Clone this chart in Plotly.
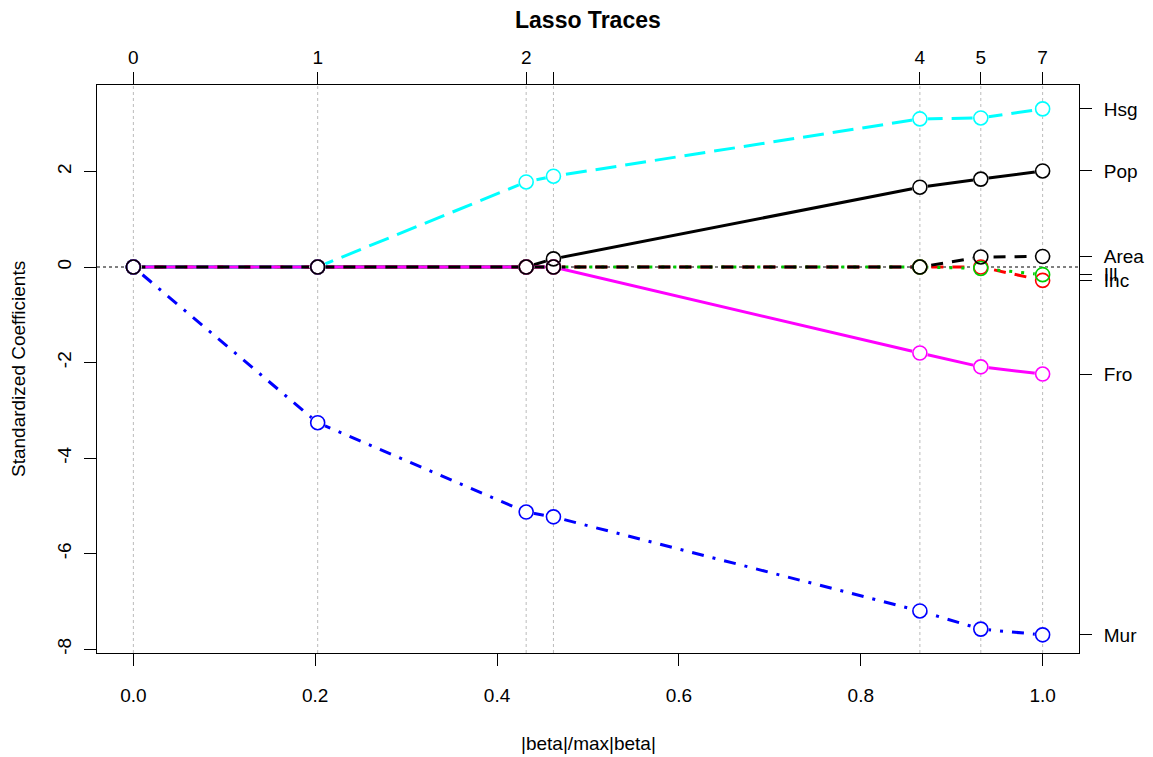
import plotly.graph_objects as go

# ---- data ----
steps = [0.0, 0.2027, 0.432, 0.462, 0.865, 0.932, 1.0]
step_labels = ["0", "1", "2", "", "4", "5", "7"]
variables = ["Pop", "Inc", "Ill", "Mur", "Hsg", "Fro", "Area"]
Pop = [0, 0, 0, 0.17, 1.67, 1.84, 2.01]
Inc = [0, 0, 0, 0, 0, 0, -0.28]
Ill = [0, 0, 0, 0, 0, -0.03, -0.16]
Mur = [0, -3.26, -5.13, -5.23, -7.20, -7.58, -7.70]
Hsg = [0, 0, 1.78, 1.90, 3.10, 3.12, 3.31]
Fro = [0, 0, 0, 0, -1.80, -2.09, -2.24]
Area = [0, 0, 0, 0, 0, 0.21, 0.22]
series = [Pop, Inc, Ill, Mur, Hsg, Fro, Area]
y_ticks = [-8, -6, -4, -2, 0, 2]
x_ticks = [0.0, 0.2, 0.4, 0.6, 0.8, 1.0]
x_tick_text = ["0.0", "0.2", "0.4", "0.6", "0.8", "1.0"]

# ---- styles ----
colors = ["#000000", "#FF0000", "#00CD00", "#0000FF", "#00FFFF", "#FF00FF", "#000000"]
dashes = ["solid", "12px,9px", "3px,9px", "3px,9px,12px,9px", "21px,9px", "solid", "12px,9px"]
FONT = "Liberation Sans, Arial, sans-serif"
FS = 19

xr = [-0.04, 1.04]
yr = [-8.08, 3.81]

fig = go.Figure()

# vertical dotted lines at each step
for s in steps:
    fig.add_shape(type="line", x0=s, x1=s, y0=0, y1=1, xref="x", yref="paper",
                  line=dict(color="#BBBBBB", width=1, dash="dot"), layer="below")
# horizontal dotted line at 0
fig.add_shape(type="line", x0=0, x1=1, y0=0, y1=0, xref="paper", yref="y",
              line=dict(color="black", width=1, dash="dot"), layer="below")

# lines
for name, vals, c, d in zip(variables, series, colors, dashes):
    fig.add_trace(go.Scatter(x=steps, y=vals, mode="lines", name=name,
                             line=dict(color=c, width=3, dash=d),
                             showlegend=False, hoverinfo="skip"))
# gaps around points (white fill)
for name, vals in zip(variables, series):
    fig.add_trace(go.Scatter(x=steps, y=vals, mode="markers",
                             marker=dict(symbol="circle", size=16, color="white",
                                         line=dict(width=0)),
                             showlegend=False, hoverinfo="skip"))
# open circles
for name, vals, c in zip(variables, series, colors):
    fig.add_trace(go.Scatter(x=steps, y=vals, mode="markers", name=name,
                             marker=dict(symbol="circle-open", size=14, color=c,
                                         line=dict(width=1.6, color=c)),
                             showlegend=False))

# invisible traces to anchor secondary axes
fig.add_trace(go.Scatter(x=[0], y=[0], xaxis="x2", yaxis="y", mode="markers",
                         marker=dict(opacity=0), showlegend=False, hoverinfo="skip"))
fig.add_trace(go.Scatter(x=[0], y=[0], xaxis="x", yaxis="y2", mode="markers",
                         marker=dict(opacity=0), showlegend=False, hoverinfo="skip"))

final_vals = [v[-1] for v in series]

axis_common = dict(showgrid=False, zeroline=False, showline=True, linecolor="black",
                   linewidth=1, ticks="outside", ticklen=12, tickcolor="black",
                   automargin=False,
                   tickfont=dict(family=FONT, size=FS, color="black"))

fig.update_layout(
    width=1153, height=757,
    margin=dict(l=97, r=74, t=85, b=104),
    paper_bgcolor="white", plot_bgcolor="white",
    font=dict(family=FONT, size=FS, color="black"),
    xaxis=dict(range=xr, tickvals=x_ticks, ticktext=x_tick_text,
               ticklabelstandoff=13, **axis_common),
    xaxis2=dict(range=xr, overlaying="x", side="top", tickvals=steps,
                ticktext=step_labels, ticklabelstandoff=0, **axis_common),
    yaxis=dict(range=yr, tickvals=y_ticks, ticktext=[str(v) for v in y_ticks],
               tickangle=-90, ticklabelstandoff=5, **axis_common),
    yaxis2=dict(range=yr, overlaying="y", side="right", tickvals=final_vals,
                ticktext=variables, ticklabelstandoff=8, **axis_common),
    annotations=[
        dict(text="<b>Lasso Traces</b>", x=0.5, y=(653 - 20) / 568, xref="paper", yref="paper",
             showarrow=False, xanchor="center", yanchor="middle",
             font=dict(family=FONT, size=23, color="black")),
        dict(text="|beta|/max|beta|", x=0.5, y=(653 - 743) / 568, xref="paper", yref="paper",
             showarrow=False, xanchor="center", yanchor="middle",
             font=dict(family=FONT, size=FS, color="black")),
        dict(text="Standardized Coefficients", x=(18 - 97) / 982, y=0.5, xref="paper",
             yref="paper", showarrow=False, xanchor="center", yanchor="middle",
             textangle=-90, font=dict(family=FONT, size=FS, color="black")),
    ],
)

fig.write_html("out.html")
